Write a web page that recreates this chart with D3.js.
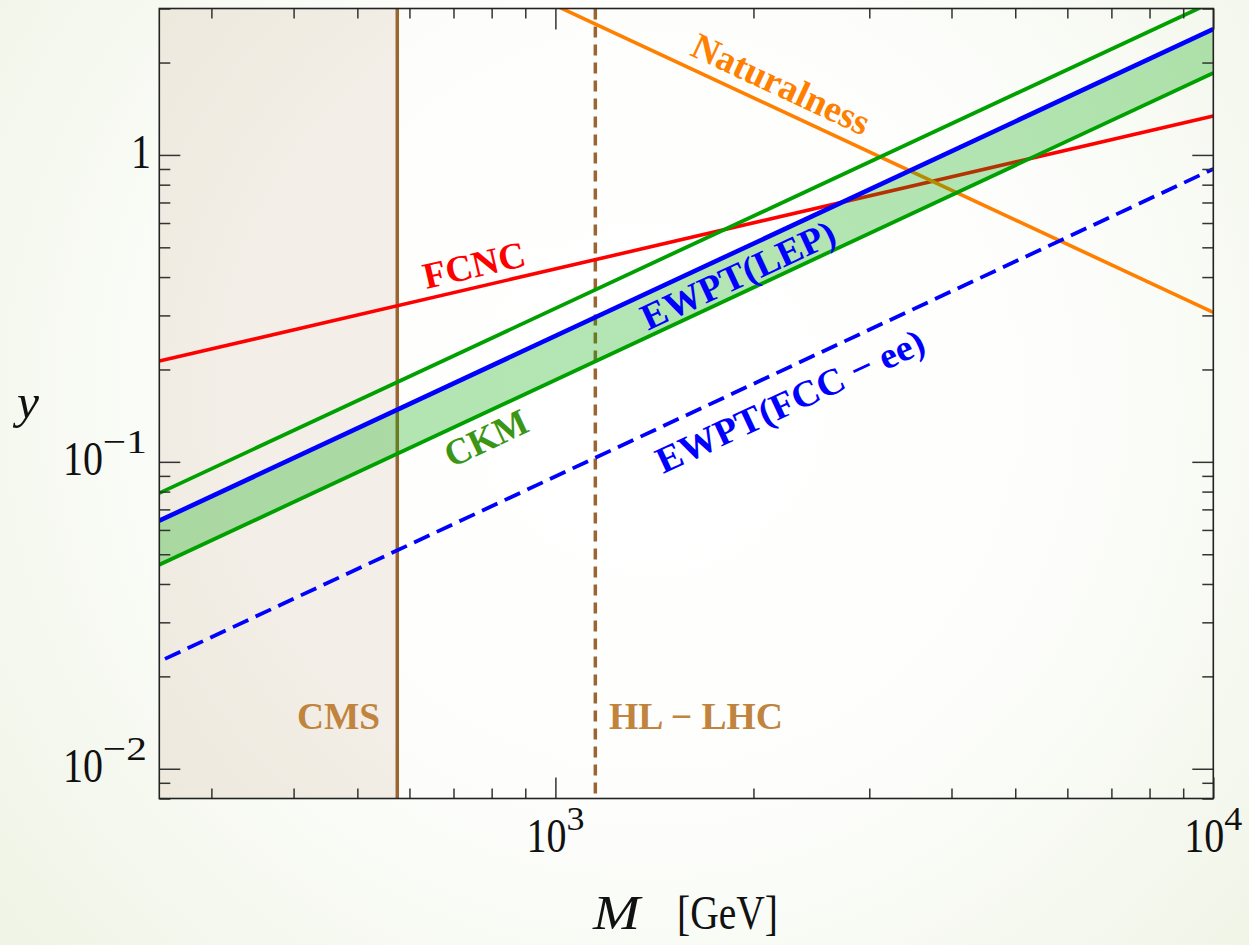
<!DOCTYPE html>
<html><head><meta charset="utf-8">
<script src="https://cdn.jsdelivr.net/npm/d3@7"></script>
<style>body{margin:0;padding:0;overflow:hidden;background:#fff}svg{display:block}</style>
</head><body>
<svg id="chart" width="1249" height="945"></svg>
<script>
// ---- data ----
const massDomain = [250, 10000];
const yDomain = [0.008, 3];
const cmsBound = 575;        // GeV
const hllhcBound = 1150;     // GeV
const fcncM = [250, 10000],  fcncY = [0.213, 1.34];
const natM = [1000, 10000],  natY = [3.07, 0.307];
const ckmUpM = [250, 10000], ckmUpY = [0.0791, 3.16];
const ckmLoM = [250, 10000], ckmLoY = [0.0462, 1.85];
const lepM = [250, 10000],   lepY = [0.0643, 2.57];
const fccM = [255, 10000],   fccY = [0.0228, 0.90];
const xMajor = [1000, 10000];
const xMajorLabels = [["10","3"],["10","4"]];
const yMajor = [0.01, 0.1, 1];
const yMajorLabels = [["10","\u22122"],["10","\u22121"],["1",""]];

// ---- layout ----
const svg = d3.select("#chart");
const W = 1249, H = 945;
const L = 159.3, R = 1213.3, T = 8.5, B = 798.5;
const x = d3.scaleLog().domain(massDomain).range([L, R]);
const y = d3.scaleLog().domain(yDomain).range([B, T]);
const serif = "'Liberation Serif','Times New Roman',serif";

const defs = svg.append("defs");
const rg = defs.append("radialGradient").attr("id","bg")
  .attr("gradientUnits","userSpaceOnUse").attr("cx",650).attr("cy",400).attr("r",830);
rg.append("stop").attr("offset","0").attr("stop-color","#ffffff");
rg.append("stop").attr("offset","0.5").attr("stop-color","#fdfefc");
rg.append("stop").attr("offset","1").attr("stop-color","#f0f4e6");
defs.append("clipPath").attr("id","clip").append("rect")
  .attr("x",L).attr("y",T).attr("width",R-L).attr("height",B-T);

svg.append("rect").attr("width",W).attr("height",H).attr("fill","url(#bg)");

const g = svg.append("g").attr("clip-path","url(#clip)");

// CMS excluded region
g.append("rect").attr("x",L).attr("y",T).attr("width",x(cmsBound)-L).attr("height",B-T+2)
  .attr("fill","rgb(153,102,51)").attr("fill-opacity",0.1);

const line = d3.line().x(d=>x(d[0])).y(d=>y(d[1]));
const pts = (ms, ys) => ms.map((m,i)=>[m, ys[i]]);

// vertical bounds
g.append("line").attr("x1",x(cmsBound)).attr("x2",x(cmsBound)).attr("y1",T).attr("y2",B)
  .attr("stroke","#996633").attr("stroke-width",3.5);
g.append("line").attr("x1",x(hllhcBound)).attr("x2",x(hllhcBound)).attr("y1",T).attr("y2",B)
  .attr("stroke","#996633").attr("stroke-width",3.5).attr("stroke-dasharray","11,7");

// FCNC and Naturalness
g.append("path").attr("d",line(pts(fcncM,fcncY))).attr("fill","none").attr("stroke","#ff0000").attr("stroke-width",3.6);
g.append("path").attr("d",line(pts(natM,natY))).attr("fill","none").attr("stroke","#ff8000").attr("stroke-width",3.6);

// CKM band (between EWPT(LEP) and lower CKM line)
const band = pts(lepM, lepY).concat(pts(ckmLoM, ckmLoY).reverse());
g.append("path").attr("d", line(band)+"Z").attr("fill","rgb(6,170,6)").attr("fill-opacity",0.3);

g.append("path").attr("d",line(pts(ckmUpM,ckmUpY))).attr("fill","none").attr("stroke","#00a000").attr("stroke-width",3.8);
g.append("path").attr("d",line(pts(ckmLoM,ckmLoY))).attr("fill","none").attr("stroke","#00a000").attr("stroke-width",3.8);
g.append("path").attr("d",line(pts(lepM,lepY))).attr("fill","none").attr("stroke","#0000ff").attr("stroke-width",4.6);
g.append("path").attr("d",line(pts(fccM,fccY))).attr("fill","none").attr("stroke","#0000ff").attr("stroke-width",3.8)
  .attr("stroke-dasharray","17,8");

// ---- labels ----
const lab = (txt, cx, cy, ang, color, w) => svg.append("text")
  .attr("transform",`translate(${cx},${cy}) rotate(${ang})`)
  .attr("x", -w/2).attr("y", 0)
  .attr("dominant-baseline","central")
  .attr("textLength", w).attr("lengthAdjust","spacingAndGlyphs")
  .attr("font-family",serif).attr("font-weight","bold")
  .attr("font-size",37).attr("fill",color).text(txt);
lab("Naturalness", 781, 84, 25, "#ff8000", 192);
lab("FCNC", 474, 265, -13.1, "#ff0000", 104);
lab("EWPT(LEP)", 738, 275, -25, "#0000ff", 210);
lab("EWPT(FCC \u2212 ee)", 790, 401, -25, "#0000ff", 292);
lab("CKM", 486, 438, -25, "#3c9616", 88);
const flat = (txt, x0, w) => svg.append("text").attr("x",x0).attr("y",729)
  .attr("textLength", w).attr("lengthAdjust","spacingAndGlyphs")
  .attr("font-family",serif).attr("font-weight","bold").attr("font-size",37)
  .attr("fill","#c0843f").text(txt);
flat("CMS", 297, 83);
flat("HL \u2212 LHC", 609, 174);

// ---- frame & ticks ----
const frame = svg.append("g");
const minorX = x.ticks().filter(v => xMajor.indexOf(v) < 0 && v >= massDomain[0] && v <= massDomain[1]);
const minorY = y.ticks().filter(v => !yMajor.some(m => Math.abs(m - v) / m < 1e-6));
function axes(gen, tr){
  const a = frame.append("g").attr("transform",tr).call(gen);
  a.select(".domain").remove(); a.selectAll("text").remove();
  a.selectAll("line").attr("stroke","#333").attr("stroke-width",1.5);
}
axes(d3.axisBottom(x).tickValues(minorX).tickSize(-10), `translate(0,${B})`);
axes(d3.axisBottom(x).tickValues(xMajor).tickSize(-21), `translate(0,${B})`);
axes(d3.axisTop(x).tickValues(minorX).tickSize(-10), `translate(0,${T})`);
axes(d3.axisTop(x).tickValues(xMajor).tickSize(-21), `translate(0,${T})`);
axes(d3.axisLeft(y).tickValues(minorY).tickSize(-11), `translate(${L},0)`);
axes(d3.axisLeft(y).tickValues(yMajor).tickSize(-21), `translate(${L},0)`);
axes(d3.axisRight(y).tickValues(minorY).tickSize(-11), `translate(${R},0)`);
axes(d3.axisRight(y).tickValues(yMajor).tickSize(-21), `translate(${R},0)`);
frame.append("rect").attr("x",L).attr("y",T).attr("width",R-L).attr("height",B-T)
  .attr("fill","none").attr("stroke","#222").attr("stroke-width",1.6);

// tick labels: base + superscript, placed as separate text pieces
function piece(txt, x0, base, w, size){
  return svg.append("text").attr("transform",`translate(${x0},${base}) scale(1,1.2)`)
    .attr("textLength", w).attr("lengthAdjust","spacingAndGlyphs")
    .attr("font-family",serif).attr("font-size",size).attr("fill","#111").text(txt);
}
function powLabel(b, e, left, baseline){
  const bw = b.length * 20;
  piece(b, left, baseline, bw, 41);
  if (e) piece(e, left + bw, baseline - 22, e.length > 1 ? 44 : 18, 28);
}
xMajor.forEach((v,i)=> powLabel(xMajorLabels[i][0], xMajorLabels[i][1], x(v) - 29, 852));
yMajor.forEach((v,i)=> {
  const b = yMajorLabels[i][0], e = yMajorLabels[i][1];
  const tw = b.length*20 + (e ? 44 : 0) - (b.length===1 ? 4 : 0);
  powLabel(b, e, 147 - tw, y(v) + 13);
});

// axis titles
svg.append("text").attr("transform","translate(17,418) scale(1,1.2)")
  .attr("textLength",22).attr("lengthAdjust","spacingAndGlyphs")
  .attr("font-family",serif).attr("font-style","italic")
  .attr("font-size",41).attr("fill","#111").text("y");
svg.append("text").attr("transform","translate(593,929) scale(1,1.2)")
  .attr("textLength",47).attr("lengthAdjust","spacingAndGlyphs")
  .attr("font-family",serif).attr("font-style","italic")
  .attr("font-size",41).attr("fill","#111").text("M");
svg.append("text").attr("transform","translate(677,929) scale(1,1.2)")
  .attr("textLength",101).attr("lengthAdjust","spacingAndGlyphs")
  .attr("font-family",serif)
  .attr("font-size",41).attr("fill","#111").text("[GeV]");
</script>
</body></html>
